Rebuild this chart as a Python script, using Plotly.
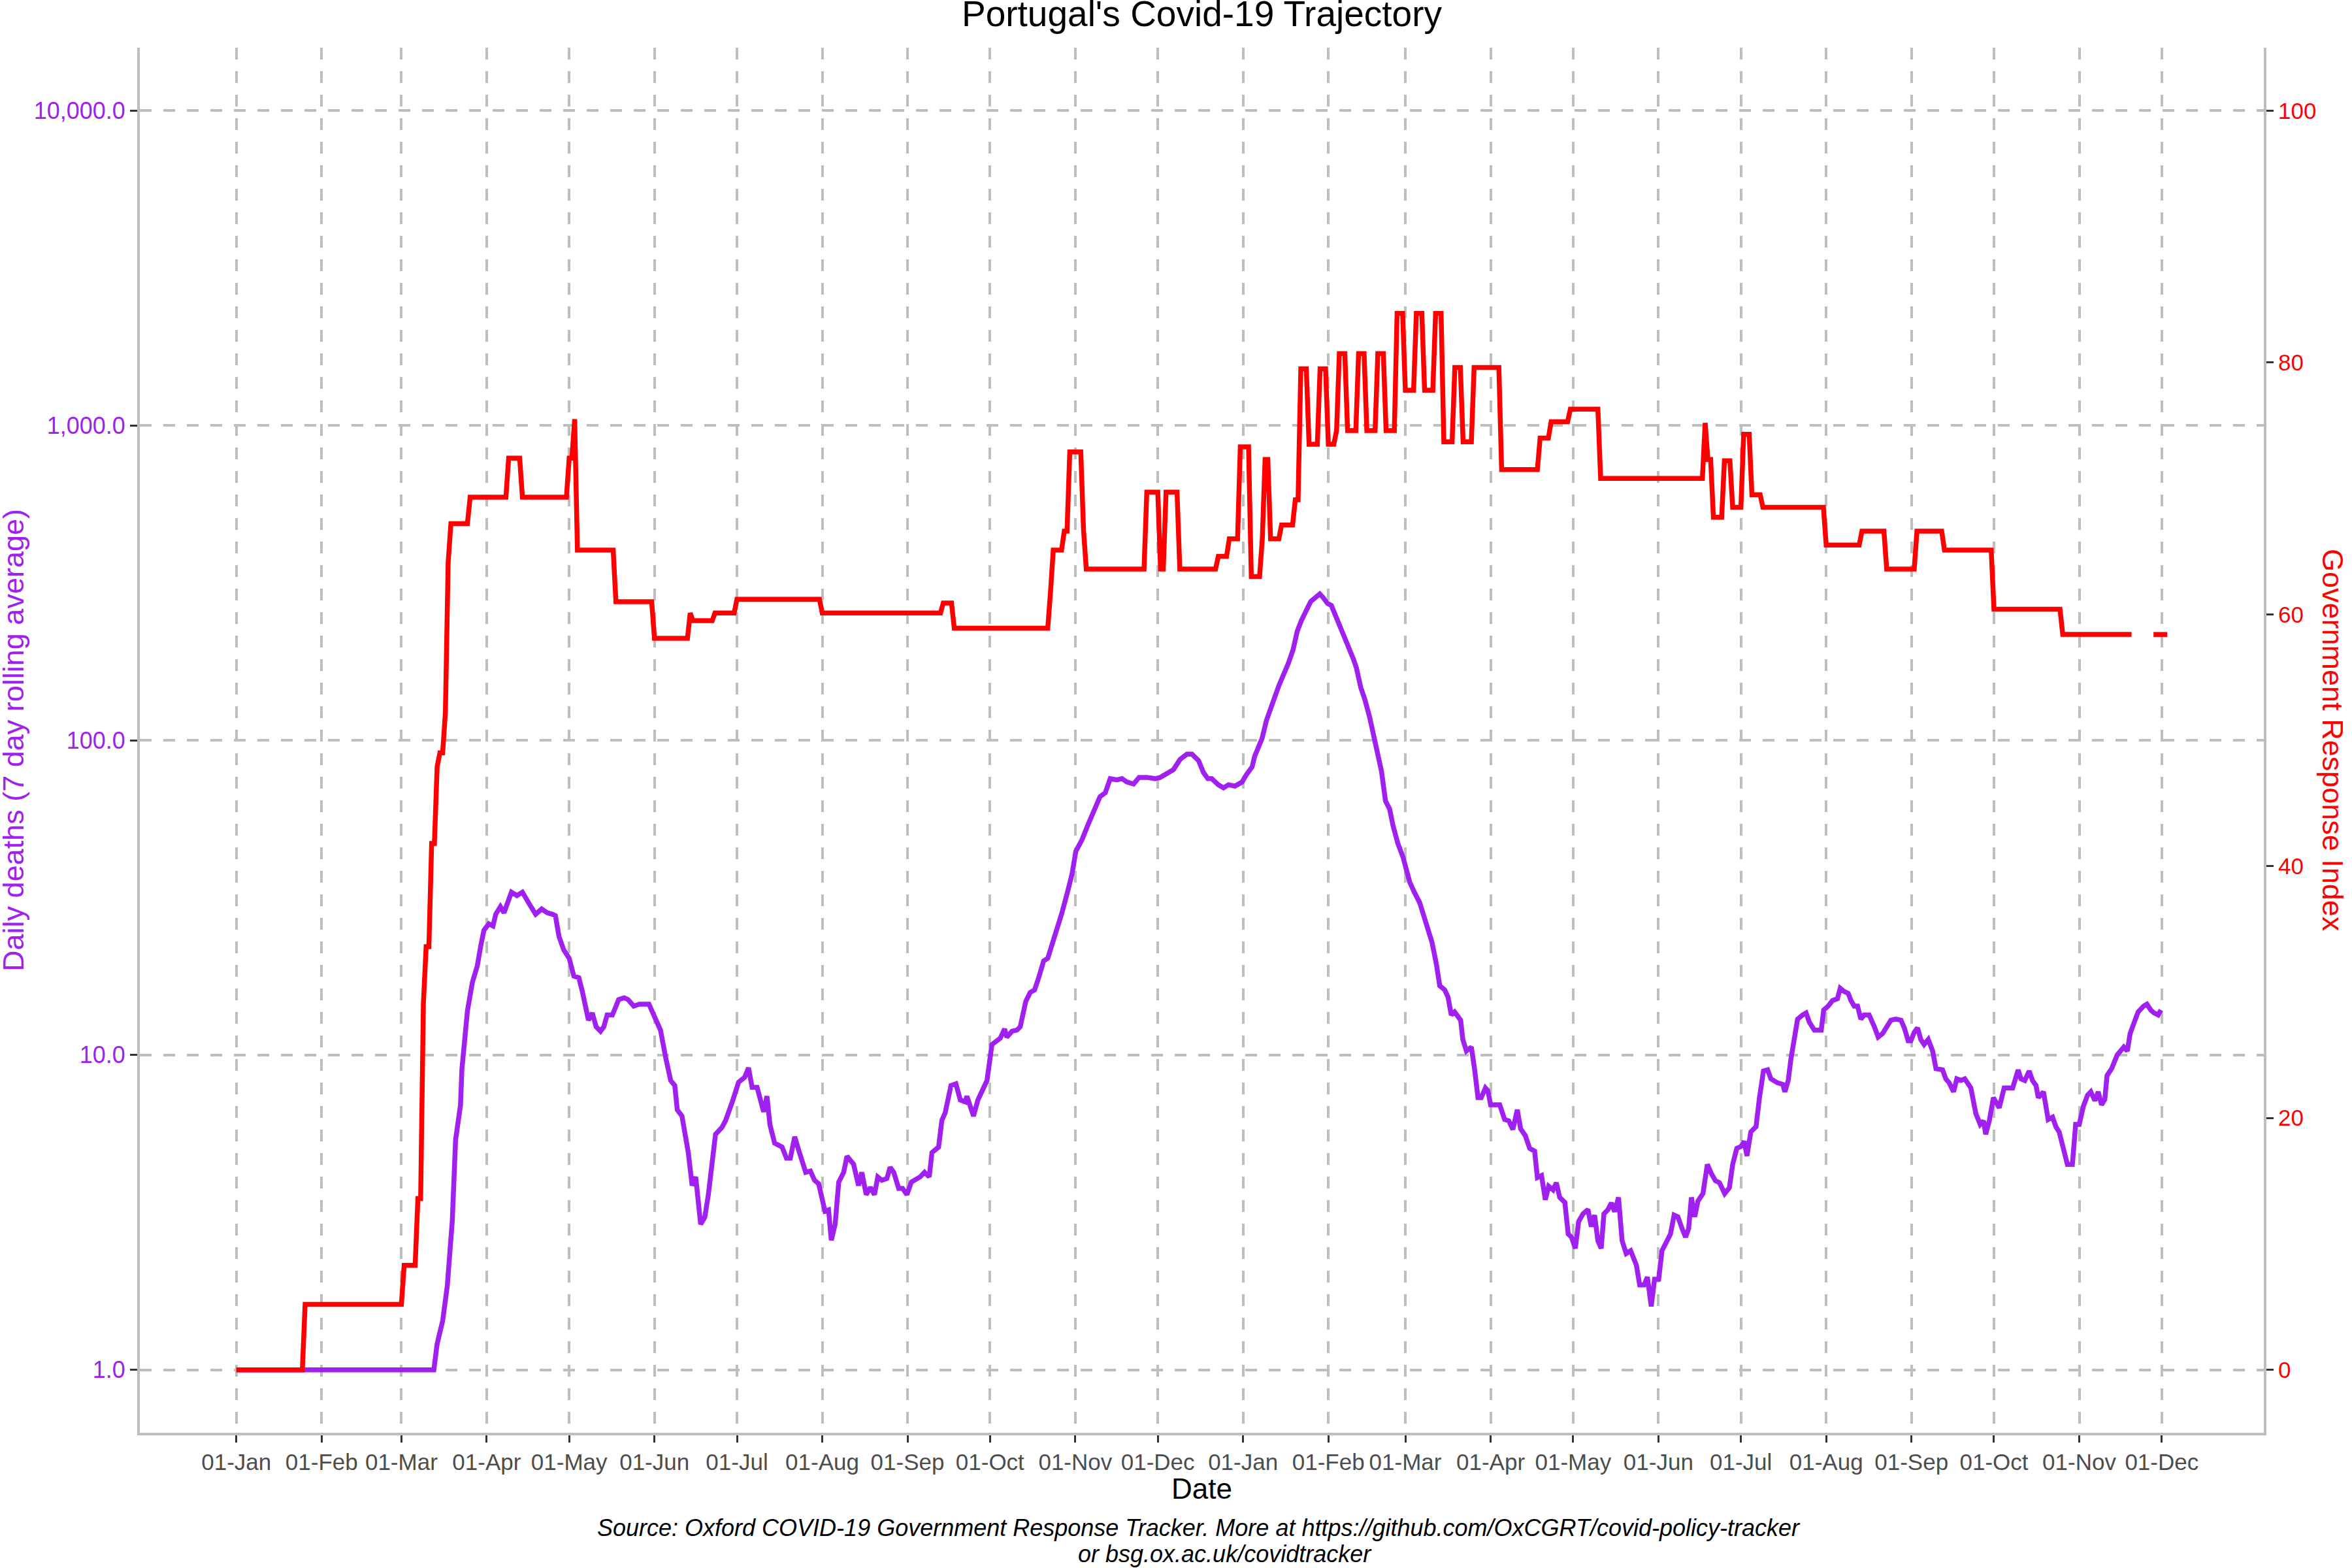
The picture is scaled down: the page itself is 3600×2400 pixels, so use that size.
import pandas as pd
import plotly.graph_objects as go

# --- Data ---
# days are counted from 01-Jan-2020
START = pd.Timestamp("2020-01-01")

# Government Response Index (right axis), step series, None = missing
GRI_DAY = [0, 24, 25, 60, 61, 65, 66, 67, 68, 69, 70, 71, 72, 73, 74, 75, 76, 77, 78, 84,
           85, 98, 99, 103, 104, 120, 121, 122, 123, 124, 137, 138, 151, 152, 164, 165, 166,
           173, 174, 181, 182, 212, 213, 256, 257, 260, 261, 295, 296, 297, 300, 301, 302,
           303, 307, 308, 309, 330, 331, 335, 336, 337, 338, 342, 343, 356, 357, 360, 361,
           364, 365, 368, 369, 372, 373, 374, 375, 376, 379, 380, 384, 385, 386, 387, 389,
           390, 393, 394, 396, 397, 399, 400, 401, 403, 404, 407, 408, 410, 411, 414, 415,
           417, 418, 421, 422, 424, 425, 428, 429, 431, 432, 435, 436, 438, 439, 442, 443,
           445, 446, 449, 450, 459, 460, 473, 474, 477, 478, 484, 485, 495, 496, 533, 534,
           535, 536, 537, 540, 541, 543, 544, 547, 548, 550, 551, 554, 555, 577, 578, 590,
           591, 599, 600, 610, 611, 620, 621, 638, 639, 663, 664, 689, 693, 697, 702]
GRI_VAL = [0, 0, 5.2, 5.2, 8.3, 8.3, 13.6, 13.6, 29.1, 33.6, 33.6, 41.8, 41.8, 47.9, 49.0,
           49.0, 52.2, 64.1, 67.2, 67.2, 69.3, 69.3, 72.4, 72.4, 69.3, 69.3, 72.4, 72.4, 75.5,
           65.1, 65.1, 61.0, 61.0, 58.1, 58.1, 60.1, 59.5, 59.5, 60.1, 60.1, 61.2, 61.2, 60.1,
           60.1, 60.9, 60.9, 58.9, 58.9, 61.8, 65.1, 65.1, 66.6, 66.6, 72.9, 72.9, 66.7, 63.6,
           63.6, 69.7, 69.7, 63.6, 63.6, 69.7, 69.7, 63.6, 63.6, 64.6, 64.6, 66.0, 66.0, 73.3,
           73.3, 63.0, 63.0, 66.0, 72.3, 72.3, 66.0, 66.0, 67.1, 67.1, 69.1, 69.1, 79.5, 79.5,
           73.5, 73.5, 79.5, 79.5, 73.5, 73.5, 74.6, 80.7, 80.7, 74.6, 74.6, 80.7, 80.7, 74.6,
           74.6, 80.7, 80.7, 74.6, 74.6, 83.9, 83.9, 77.8, 77.8, 83.9, 83.9, 77.8, 77.8, 83.9,
           83.9, 73.7, 73.7, 79.6, 79.6, 73.7, 73.7, 79.6, 79.6, 71.5, 71.5, 74.0, 74.0, 75.3,
           75.3, 76.3, 76.3, 70.8, 70.8, 75.2, 72.3, 72.3, 67.7, 67.7, 72.2, 72.2, 68.5, 68.5,
           74.3, 74.3, 69.5, 69.5, 68.5, 68.5, 65.5, 65.5, 66.6, 66.6, 63.6, 63.6, 66.6, 66.6,
           65.1, 65.1, 60.4, 60.4, 58.4, 58.4, None, 58.4, 58.4]

# Daily deaths, 7 day rolling average (left log axis)
DEATHS_DAY = [0, 71.8, 73, 75, 76.7, 78, 78.5, 79.7, 81.5, 82, 84, 85.8, 87.6, 88.8, 90, 91.8,
              93.3, 94.3, 96, 97.3, 99, 100, 102, 104, 106.4, 108.8, 111, 113, 114.9, 116,
              117.3, 119, 121, 122.7, 124.5, 125.8, 128, 129.4, 130.8, 132.4, 133.6, 134.8,
              136.7, 139, 141, 142.4, 144.5, 146.5, 150, 151.8, 154.2, 156, 157.9, 159.4,
              160.3, 162, 164.3, 165.7, 167, 168.8, 170.3, 171.6, 173, 174.2, 176.6, 177.9,
              180.3, 182.6, 184.8, 186.2, 187.5, 189.3, 191.7, 192.9, 194, 195.7, 198.4, 200,
              201.4, 203, 204.4, 207, 208.7, 210.2, 211.7, 214, 215.3, 216.3, 217.7, 219,
              220.8, 222, 224.4, 226.2, 227.4, 229, 230.5, 232, 233.2, 234.7, 236.5, 237.7,
              239, 240.8, 242.2, 243.8, 245.4, 246.8, 248.6, 250.2, 251.9, 252.9, 255.3,
              256.5, 257.7, 259.8, 261.6, 263.2, 265, 265.6, 268, 269.6, 271, 272.9, 274.7,
              277.7, 279.3, 280.1, 282, 283.8, 285, 287, 288.6, 290.2, 291.6, 293.5, 295,
              296.5, 298.3, 300.1, 302, 303.8, 305.2, 307.4, 309.6, 312, 314, 315.9, 317.7,
              320.1, 322, 323.7, 326.2, 328.2, 331, 334, 335.9, 338.3, 340.7, 343.1, 345.6,
              347.4, 349.8, 351.6, 353.2, 354.6, 357, 358.9, 360.7, 363, 365.6, 367.2, 369.3,
              370.2, 371.5, 372.9, 374.5, 376.1, 377.5, 379, 380.5, 382.4, 384.2, 385.7,
              387.2, 389, 390.6, 392.3, 393.9, 395.1, 396.7, 398.1, 400, 401.5, 403.2, 404.4,
              406, 407.2, 408.8, 410.2, 412, 413.9, 415.3, 416.3, 417.8, 419.3, 420.5, 422.3,
              424.2, 425.4, 426.6, 428.2, 430.2, 431.8, 433.2, 434.7, 436.3, 437.5, 439.3,
              440.5, 441.7, 442.9, 445.1, 445.9, 447.2, 449, 450.2, 451.4, 452.6, 454.1, 455,
              456, 459.3, 461.1, 462.6, 464.1, 465.7, 466.9, 468.6, 470.2, 472, 473, 474.5,
              475.9, 477.1, 478.7, 479.9, 481.1, 483, 484.2, 485.4, 486.8, 488, 489.6, 491.4,
              492.6, 493.8, 495, 496.2, 497.2, 498.7, 499.9, 501.1, 502.5, 503.8, 505.3,
              506.9, 509, 510.2, 511.8, 513, 514.4, 515.6, 517.1, 518.3, 519.9, 521.4, 522.7,
              524.1, 525.6, 526.9, 528, 529, 530.2, 531.4, 533.2, 534.8, 536.2, 537.7, 539.2,
              541.1, 542.8, 544, 545.5, 547, 548.2, 549.2, 550.6, 552.5, 553.7, 555.2, 556.7,
              557.9, 560.3, 562.2, 563, 564.2, 565.2, 566.4, 567.6, 569.4, 570.7, 571.9,
              573.7, 576.2, 577.1, 578.7, 580.3, 582.1, 583.1, 584.6, 586, 587, 588.2, 589.4,
              590.6, 591.8, 593.6, 595.5, 596.9, 598.5, 600.1, 601.5, 603.3, 605.2, 606.4,
              607.8, 608.8, 610, 611.2, 612.4, 613.6, 615.1, 616.7, 617.9, 620.3, 621.5,
              622.7, 624.3, 625.5, 627, 628.4, 630.6, 632.4, 634, 635.2, 636, 637.3, 638.8,
              640.9, 642.7, 645.8, 647.8, 648.8, 650.2, 651.8, 653, 654.3, 655.1, 657, 658.7,
              660.3, 661.5, 662.7, 664.3, 665.7, 667.5, 668.7, 670, 671.5, 673, 674.2, 675.7,
              676.9, 678.1, 679.3, 680.1, 681.8, 683.8, 686.2, 687.5, 688.5, 690, 691.4,
              693.4, 694.6, 696, 697.2, 698.7, 699.7]
DEATHS_VAL = [1.0, 1.0, 1.21, 1.43, 1.85, 2.71, 2.97, 5.37, 6.95, 9.0, 13.8, 17.0, 19.2, 22.1,
              24.9, 26.1, 25.7, 28.0, 29.6, 28.3, 30.7, 32.9, 32.1, 32.9, 30.3, 28.0, 29.1,
              28.3, 28.0, 27.7, 23.8, 21.6, 20.3, 17.8, 17.6, 15.9, 12.9, 13.6, 12.3, 11.9,
              12.3, 13.4, 13.4, 15.0, 15.2, 15.0, 14.3, 14.5, 14.5, 13.3, 12.0, 9.9, 8.3, 8.0,
              6.7, 6.4, 4.9, 3.85, 4.1, 2.9, 3.05, 3.6, 4.5, 5.6, 5.9, 6.2, 7.1, 8.2, 8.5, 9.1,
              7.9, 7.9, 6.6, 7.4, 6.0, 5.25, 5.1, 4.7, 4.7, 5.5, 5.0, 4.24, 4.28, 4.0, 3.9,
              3.19, 3.22, 2.58, 2.9, 3.95, 4.24, 4.77, 4.5, 3.85, 4.24, 3.6, 3.8, 3.6, 4.1,
              4.0, 4.05, 4.4, 4.24, 3.77, 3.77, 3.6, 3.95, 4.0, 4.1, 4.24, 4.1, 4.9, 5.1, 6.2,
              6.55, 8.0, 8.1, 7.2, 7.1, 7.4, 6.4, 7.2, 7.6, 8.3, 10.8, 11.3, 12.1, 11.4, 11.9,
              12.0, 12.3, 14.8, 15.8, 16.1, 17.5, 19.9, 20.3, 22.3, 24.5, 28.2, 32.5, 37.5,
              44.4, 48.2, 53.8, 59.6, 66.2, 68.1, 75.5, 74.8, 75.5, 73.7, 72.6, 76.2, 76.2,
              75.5, 76.2, 78.4, 80.7, 86.9, 90.3, 90.3, 86.2, 79.0, 75.5, 75.5, 72.2, 70.6,
              72.2, 71.5, 73.6, 77.7, 82.3, 88.8, 95.2, 101.3, 115.5, 128.3, 137, 149, 159.5,
              175, 194, 222, 240, 258, 276, 284, 291.5, 284, 272, 268, 245, 229, 213, 197,
              182, 170, 147, 135.5, 118.5, 98.5, 88.8, 79.9, 64.1, 60.4, 53.6, 46.9, 42.4,
              38.8, 35.4, 33.0, 30.5, 27.5, 24.9, 22.8, 19.4, 16.6, 16.1, 15.3, 13.4, 13.7,
              12.9, 11.2, 10.3, 10.6, 8.97, 7.32, 7.32, 7.86, 7.7, 6.95, 6.95, 6.24, 6.18,
              5.8, 6.7, 5.83, 5.55, 5.05, 4.95, 4.08, 4.14, 3.47, 3.83, 3.73, 3.93, 3.53, 3.4,
              2.7, 2.64, 2.43, 2.96, 3.13, 3.23, 2.85, 3.1, 2.57, 2.43, 3.13, 3.23, 3.39,
              3.18, 3.53, 2.57, 2.34, 2.39, 2.15, 1.86, 1.86, 1.97, 1.59, 1.94, 1.94, 2.39,
              2.57, 2.7, 3.1, 3.06, 2.81, 2.64, 2.81, 3.53, 3.06, 3.44, 3.63, 4.49, 4.21,
              3.99, 3.93, 3.63, 3.79, 4.49, 5.05, 5.12, 5.32, 4.78, 5.7, 5.92, 7.27, 8.9,
              8.97, 8.4, 8.16, 8.07, 7.64, 8.3, 9.74, 11.1, 13.0, 13.4, 13.6, 12.7, 12.0, 12.0,
              13.9, 14.3, 14.9, 15.1, 16.3, 15.9, 15.7, 14.9, 14.3, 14.3, 13.0, 13.4, 13.4,
              12.3, 11.4, 11.7, 12.3, 12.9, 13.0, 12.9, 12.2, 11.1, 11.1, 11.8, 12.2, 11.2,
              10.8, 11.2, 10.3, 9.06, 8.97, 8.4, 8.16, 7.64, 8.4, 8.3, 8.4, 7.86, 6.52, 6.02,
              6.18, 5.6, 6.18, 7.32, 6.8, 7.86, 7.86, 8.97, 8.4, 8.3, 8.9, 8.3, 8.0, 7.32,
              7.64, 6.24, 6.35, 5.92, 5.7, 4.94, 4.49, 4.49, 6.02, 6.02, 6.87, 7.45, 7.64,
              7.16, 7.64, 6.95, 7.23, 8.6, 9.06, 10.0, 10.6, 10.3, 11.7, 12.7, 13.7, 14.3,
              14.5, 13.9, 13.6, 13.4, 13.9]

MONTH_TICKS = ["2020-01-01", "2020-02-01", "2020-03-01", "2020-04-01", "2020-05-01",
               "2020-06-01", "2020-07-01", "2020-08-01", "2020-09-01", "2020-10-01",
               "2020-11-01", "2020-12-01", "2021-01-01", "2021-02-01", "2021-03-01",
               "2021-04-01", "2021-05-01", "2021-06-01", "2021-07-01", "2021-08-01",
               "2021-09-01", "2021-10-01", "2021-11-01", "2021-12-01"]
DEATHS_TICKS = [1, 10, 100, 1000, 10000]
DEATHS_LABELS = ["1.0", "10.0", "100.0", "1,000.0", "10,000.0"]
GRI_TICKS = [0, 20, 40, 60, 80, 100]

PURPLE = "#A020F0"
RED = "#FF0000"
GRID = "#BEBEBE"
FONT = "Liberation Sans"

deaths_dates = START + pd.to_timedelta(DEATHS_DAY, unit="D")
gri_dates = START + pd.to_timedelta(GRI_DAY, unit="D")

fig = go.Figure()
fig.add_trace(go.Scatter(x=deaths_dates, y=DEATHS_VAL, mode="lines",
                         line=dict(color=PURPLE, width=7.5), yaxis="y", showlegend=False))
fig.add_trace(go.Scatter(x=gri_dates, y=GRI_VAL, mode="lines", connectgaps=False,
                         line=dict(color=RED, width=7.5), yaxis="y2", showlegend=False))

axis_common = dict(showline=True, linecolor=GRID, linewidth=4, ticks="outside",
                   ticklen=11, tickwidth=3, tickcolor="#333333", zeroline=False)

fig.update_layout(
    width=3600, height=2400,
    margin=dict(l=214, r=135, t=73, b=207, pad=0),
    paper_bgcolor="white", plot_bgcolor="white",
    font=dict(family=FONT, size=35, color="black"),
    xaxis=dict(type="date", range=["2019-11-26 21:36", "2022-01-07 02:24"],
               tickvals=MONTH_TICKS, tickformat="%d-%b",
               tickfont=dict(size=35, color="#4D4D4D"),
               showgrid=True, gridcolor=GRID, gridwidth=4, griddash="18px,18px",
               **axis_common),
    yaxis=dict(type="log", range=[-0.2, 4.2], tickvals=DEATHS_TICKS, ticktext=DEATHS_LABELS,
               tickfont=dict(size=36, color=PURPLE),
               showgrid=True, gridcolor=GRID, gridwidth=4, griddash="18px,18px",
               **axis_common),
    yaxis2=dict(overlaying="y", side="right", range=[-5, 105], tickvals=GRI_TICKS,
                tickfont=dict(size=35, color=RED), showgrid=False, **axis_common),
)

annotations = [
    dict(text="Portugal's Covid-19 Trajectory", x=0.5, y=1.0245, yanchor="middle",
         font=dict(size=55, color="black")),
    dict(text="Date", x=0.5, y=-0.0401, yanchor="middle", font=dict(size=44, color="black")),
    dict(text="<i>Source: Oxford COVID-19 Government Response Tracker. More at "
              "https://github.com/OxCGRT/covid-policy-tracker</i>",
         x=0.4985, y=-0.0684, yanchor="middle", font=dict(size=36, color="black")),
    dict(text="<i>or bsg.ox.ac.uk/covidtracker</i>", x=0.5109, y=-0.0873, yanchor="middle",
         font=dict(size=36, color="black")),
    dict(text="Daily deaths (7 day rolling average)", x=-0.0597, y=0.5, textangle=-90,
         xanchor="center", font=dict(size=45, color=PURPLE)),
    dict(text="Government Response Index", x=1.0326, y=0.5, textangle=90,
         xanchor="center", font=dict(size=45, color=RED)),
]
for a in annotations:
    a.update(xref="paper", yref="paper", showarrow=False)
    a.setdefault("xanchor", "center")
fig.update_layout(annotations=annotations)

# page body has a default margin; drop it so the figure sits at the window corner
fig.write_html("out.html", config={"displayModeBar": False},
               post_script="document.body.style.margin='0';")
